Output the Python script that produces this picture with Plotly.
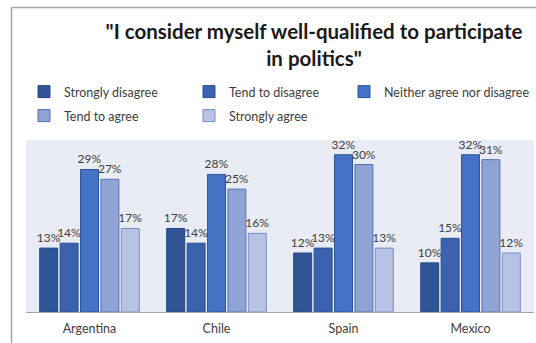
import plotly.graph_objects as go

countries = ["Argentina", "Chile", "Spain", "Mexico"]
responses = [
    "Strongly disagree",
    "Tend to disagree",
    "Neither agree nor disagree",
    "Tend to agree",
    "Strongly agree",
]
strongly_disagree = [13, 17, 12, 10]
tend_to_disagree = [14, 14, 13, 15]
neither = [29, 28, 32, 32]
tend_to_agree = [27, 25, 30, 31]
strongly_agree = [17, 16, 13, 12]

series = [strongly_disagree, tend_to_disagree, neither, tend_to_agree, strongly_agree]
fills = ["#2F5597", "#3A62AE", "#4472C4", "#8FA3D4", "#B8C3E3"]
edges = ["#26467F", "#2C4F92", "#2F5597", "#5670B0", "#7A8DC4"]
# legend layout: two entries plus a wide third on the first row, two on the second
legend_ids = ["legend", "legend", "legend3", "legend2", "legend2"]

W, H = 536, 343
FONT = "Lato"

fig = go.Figure()
for name, vals, fc, ec, lg in zip(responses, series, fills, edges, legend_ids):
    fig.add_trace(go.Bar(
        name=name,
        x=countries,
        y=vals,
        marker=dict(color=fc, line=dict(color=ec, width=1)),
        text=[f"{v}%" for v in vals],
        textposition="outside",
        textfont=dict(family=FONT, size=12, color="#404040"),
        constraintext="none",
        cliponaxis=False,
        legend=lg,
    ))

legend_common = dict(
    orientation="h",
    xref="container", yref="container",
    xanchor="left", yanchor="middle",
    entrywidth=120, entrywidthmode="pixels",
    font=dict(family=FONT, size=12.5, color="#404040"),
    bgcolor="rgba(0,0,0,0)",
    traceorder="normal",
)

fig.update_layout(
    width=W, height=H,
    margin=dict(l=26, r=2, t=140, b=31),
    paper_bgcolor="white",
    plot_bgcolor="#E9EBF5",
    barmode="group",
    bargap=0.197,
    bargroupgap=0.12,
    title=dict(
        text='"I consider myself well-qualified to participate<br>in politics"',
        font=dict(family=FONT, size=20.5, color="#1A1A1A", weight="bold"),
        x=314 / W, xanchor="center", xref="container",
        y=1 - 39 / H, yanchor="top", yref="container",
    ),
    legend=dict(legend_common, x=24 / W, y=1 - 92 / H),
    legend2=dict(legend_common, x=24 / W, y=1 - 116 / H),
    legend3=dict(legend_common, x=344 / W, y=1 - 92 / H, entrywidth=160),
    xaxis=dict(
        showline=True, linecolor="#A6A6A6", linewidth=1,
        ticks="", showgrid=False, ticklabelstandoff=5,
        tickfont=dict(family=FONT, size=12.5, color="#404040"),
    ),
    yaxis=dict(range=[0, 35], visible=False, showgrid=False),
    shapes=[
        dict(type="line", xref="paper", yref="paper",
             x0=(11.5 - 26) / 508, x1=(11.5 - 26) / 508,
             y0=-1, y1=(311.5 - 7) / 172,
             line=dict(color="#A6A6A6", width=1.5)),
        dict(type="line", xref="paper", yref="paper",
             x0=(11.5 - 26) / 508, x1=1.2,
             y0=(311.5 - 7) / 172, y1=(311.5 - 7) / 172,
             line=dict(color="#A6A6A6", width=1.5)),
    ],
)

fig.write_html("out.html")
